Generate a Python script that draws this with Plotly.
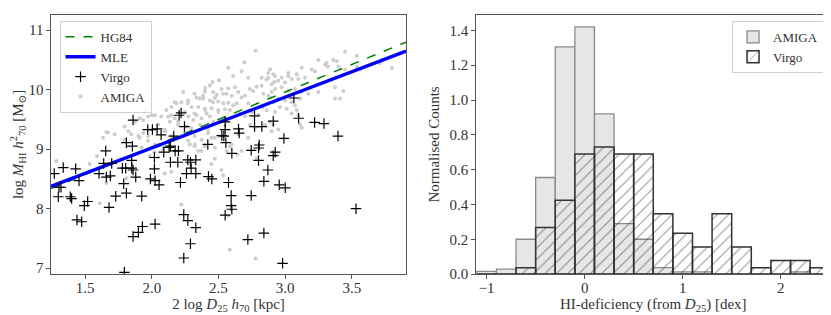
import plotly.graph_objects as go

# ---------------- Left panel data ----------------
virgo_x = [1.27, 1.337, 1.305, 1.32, 1.30, 1.39, 1.40, 1.43, 1.455, 1.44, 1.475, 1.495, 1.52,
           1.605, 1.64, 1.655, 1.66, 1.69, 1.68, 1.70, 1.73, 1.79, 1.78, 1.805, 1.81, 1.81, 1.795,
           1.85, 1.85, 1.855, 1.86, 1.86, 1.86, 1.88, 1.90, 1.93, 1.925, 1.97, 2.005, 1.99, 2.025,
           2.02, 2.02, 2.025, 2.04, 2.055, 2.07, 2.09, 2.13, 2.14, 2.14, 2.165, 2.175, 2.20, 2.195,
           2.215, 2.205, 2.22, 2.24, 2.245, 2.24, 2.27, 2.27, 2.26, 2.29, 2.29, 2.295, 2.33, 2.33,
           2.33, 2.42, 2.425, 2.45, 2.525, 2.54, 2.55, 2.55, 2.555, 2.55, 2.575, 2.595, 2.595, 2.60,
           2.60, 2.65, 2.655, 2.72, 2.745, 2.745, 2.77, 2.77, 2.80, 2.805, 2.80, 2.825, 2.84, 2.84,
           2.87, 2.91, 2.91, 2.925, 2.955, 2.98, 2.99, 3.00, 3.10, 3.22, 3.29, 3.395, 3.53, 3.065]
virgo_y = [8.59, 8.69, 8.36, 8.36, 8.20, 8.20, 8.17, 8.67, 8.47, 7.81, 7.78, 8.05, 8.12,
           8.59, 8.76, 8.97, 8.53, 8.55, 8.02, 8.76, 8.21, 8.42, 8.68, 8.68, 9.11, 8.26, 6.93,
           8.81, 8.68, 9.05, 8.65, 9.49, 7.53, 8.53, 7.60, 7.70, 8.21, 9.33, 9.33, 8.50, 8.47,
           8.86, 8.67, 7.74, 9.34, 8.40, 9.24, 8.95, 9.03, 9.05, 8.78, 9.22, 8.97, 8.97, 8.78,
           8.44, 9.57, 9.61, 7.90, 9.38, 7.17, 7.80, 8.82, 8.59, 8.78, 7.41, 8.68, 7.68, 8.82,
           8.59, 9.08, 8.54, 8.50, 9.23, 9.22, 9.33, 9.46, 9.11, 7.89, 8.44, 8.22, 8.05, 7.99,
           8.93, 9.34, 9.27, 7.48, 8.22, 8.98, 9.56, 9.38, 9.02, 9.07, 8.81, 9.38, 7.59, 8.46,
           8.65, 9.47, 8.89, 8.95, 8.40, 7.08, 9.18, 8.35, 9.52, 9.45, 9.43, 9.22, 8.00, 9.86]

amiga_x = [2.778, 2.693, 2.86, 2.873, 2.503, 2.436, 2.786, 2.823, 2.918, 2.523, 2.573, 2.623, 2.736,
           2.76, 2.398, 2.46, 2.486, 2.56, 2.598, 2.648, 2.673, 2.698, 2.836, 2.873, 2.898, 2.236,
           2.336, 2.36, 2.386, 2.273, 2.436, 2.46, 2.498, 2.536, 2.573, 2.61, 2.636, 2.223, 2.186,
           2.298, 2.348, 2.398, 2.448, 2.498, 2.548, 2.586, 2.736, 2.773, 2.848, 2.886, 2.898,
           1.948, 1.973, 2.023, 1.936, 2.123, 2.148, 2.173, 2.136, 2.248, 2.273, 2.311, 2.336,
           2.373, 2.411, 2.436, 2.461, 2.198, 2.261, 2.298, 2.361, 2.423, 2.223, 2.273, 2.323,
           2.373, 2.448, 2.498, 2.648, 2.723, 2.348, 2.473, 2.598, 2.673, 1.936, 1.998, 2.048,
           2.098, 1.973, 2.023, 2.086, 1.923, 2.66, 2.70, 2.75, 2.80, 2.83, 2.86,
           3.448, 3.536, 3.36, 3.386, 3.31, 3.248, 3.198, 3.123, 3.223, 3.086, 3.023, 2.973,
           2.923, 2.898, 2.948, 2.998, 3.048, 3.098, 3.148, 3.798, 3.723, 3.373, 3.436, 3.248,
           3.173, 3.123, 3.073, 3.023, 2.973, 2.923, 3.373, 3.411, 3.111, 3.048, 2.998, 2.948,
           2.911, 2.886, 3.073, 3.086, 3.048, 3.098, 3.011, 2.961, 2.923, 2.911, 2.948, 3.111,
           3.123, 2.873, 2.886, 2.911,
           3.71, 3.56, 2.723, 2.823, 2.573, 2.61, 2.673, 2.723, 2.823, 3.023, 3.298, 3.32, 3.40,
           3.448, 3.536,
           2.455, 2.40, 2.535, 2.472, 2.32, 2.385, 2.172, 2.147, 2.11, 2.27, 2.40, 2.50, 2.32,
           1.91, 2.072, 2.197, 1.672, 1.722, 1.635, 1.797, 1.847, 1.91, 1.972, 2.097, 2.147,
           2.247, 2.322, 2.422, 2.472, 1.797,
           1.285, 1.535, 1.61, 1.66, 1.81, 2.02, 2.047, 2.085, 1.985, 2.097, 2.147, 2.222, 2.285,
           2.322, 2.372, 2.397, 2.472, 2.522, 2.535, 2.447, 2.56,
           2.585, 2.643, 2.785, 2.585, 2.778, 2.573,
           1.59, 1.66, 1.825, 1.875, 1.90, 1.95, 2.0]
amiga_y = [10.655, 10.46, 10.17, 10.20, 10.16, 10.07, 10.05, 10.065, 10.13, 10.01, 10.02, 10.04, 10.01,
           9.98, 9.97, 9.96, 9.91, 9.93, 9.90, 9.96, 9.87, 9.90, 9.93, 9.90, 9.96, 9.96,
           9.87, 9.85, 9.85, 9.82, 9.82, 9.79, 9.80, 9.77, 9.78, 9.74, 9.77, 9.79, 9.77,
           9.71, 9.71, 9.68, 9.69, 9.66, 9.67, 9.66, 9.41, 9.36, 9.41, 9.46, 9.30,
           9.63, 9.55, 9.57, 9.49, 9.55, 9.57, 9.52, 9.46, 9.63, 9.55, 9.49, 9.57,
           9.52, 9.60, 9.55, 9.46, 9.41, 9.38, 9.35, 9.41, 9.33, 9.22, 9.14, 9.08,
           9.16, 9.19, 9.22, 9.25, 9.19, 8.97, 9.03, 9.08, 8.97, 9.27, 9.33, 9.41,
           9.33, 9.14, 9.08, 9.03, 9.03, 9.60, 9.55, 9.62, 9.58, 9.70, 9.65,
           10.64, 10.57, 10.50, 10.48, 10.45, 10.50, 10.34, 10.37, 10.31, 10.26, 10.23, 10.20,
           10.23, 10.09, 10.15, 10.12, 10.18, 10.18, 10.20, 10.37, 10.50, 10.04, 9.98, 9.96,
           9.93, 9.96, 10.01, 9.98, 10.04, 10.01, 9.85, 9.85, 9.85, 9.79, 9.82, 9.85,
           9.79, 9.87, 9.74, 9.66, 9.60, 9.57, 9.68, 9.71, 9.63, 9.41, 9.33, 9.41,
           9.36, 10.28, 10.34, 10.26,
           10.45, 10.34, 9.77, 9.71, 10.37, 10.23, 10.31, 10.20, 10.20, 10.28, 10.42, 10.39, 10.39,
           10.34, 10.39,
           10.13, 10.03, 9.93, 9.86, 9.93, 9.90, 9.79, 9.71, 9.66, 9.77, 9.66, 9.63, 9.60,
           9.52, 9.55, 9.46, 9.28, 9.25, 9.19, 9.38, 9.25, 9.19, 9.22, 9.30, 9.22,
           9.27, 9.22, 9.27, 9.19, 9.16,
           8.80, 8.75, 8.09, 8.43, 8.51, 8.95, 8.86, 9.00, 8.89, 8.59, 8.62, 8.07, 9.08,
           9.05, 8.97, 9.05, 8.84, 8.65, 8.56, 8.75, 8.97,
           9.04, 8.91, 8.85, 7.31, 7.16, 7.88,
           8.88, 9.29, 9.30, 9.46, 9.22, 9.65, 9.57]

line_x = [1.245, 3.905]
mle_coef = [7.31, 0.855]    # intercept, slope
hg84_coef = [7.184, 0.926]  # intercept, slope

# ---------------- Right panel data ----------------
bin_edges = [-1.1, -0.9, -0.7, -0.5, -0.3, -0.1, 0.1, 0.3, 0.5, 0.7, 0.9, 1.1, 1.3, 1.5,
             1.7, 1.9, 2.1, 2.3, 2.5]
amiga_counts = [0.015, 0.028, 0.20, 0.555, 1.305, 1.42, 0.92, 0.29, 0.20, 0.037, 0.013,
                0.013, 0.0, 0.0, 0.0, 0.0, 0.013, 0.0]
virgo_counts = [0.0, 0.0, 0.037, 0.267, 0.424, 0.69, 0.73, 0.69, 0.69, 0.346, 0.234,
                0.155, 0.346, 0.155, 0.037, 0.078, 0.078, 0.037]

bin_centers = [(a + b) / 2 for a, b in zip(bin_edges[:-1], bin_edges[1:])]
bin_widths = [b - a for a, b in zip(bin_edges[:-1], bin_edges[1:])]

FONT = "Liberation Serif, Times New Roman, DejaVu Serif, serif"
AX = "#555555"
TXT = "#333333"
FS = 15
LFS = 13

fig = go.Figure()

# Left panel
fig.add_trace(go.Scatter(x=amiga_x, y=amiga_y, mode="markers", name="AMIGA",
                         marker=dict(color="#cdcdcd", size=4), legendrank=4,
                         xaxis="x", yaxis="y", legend="legend"))
fig.add_trace(go.Scatter(x=line_x, y=[hg84_coef[0] + hg84_coef[1] * v for v in line_x],
                         mode="lines", name="HG84", line=dict(color="green", width=1.5, dash="dash"),
                         legendrank=1, xaxis="x", yaxis="y", legend="legend"))
fig.add_trace(go.Scatter(x=line_x, y=[mle_coef[0] + mle_coef[1] * v for v in line_x],
                         mode="lines", name="MLE", line=dict(color="blue", width=3.4),
                         legendrank=2, xaxis="x", yaxis="y", legend="legend"))
fig.add_trace(go.Scatter(x=virgo_x, y=virgo_y, mode="markers", name="Virgo",
                         marker=dict(symbol="cross-thin", size=7.5, line=dict(color="black", width=1.2)),
                         legendrank=3, xaxis="x", yaxis="y", legend="legend"))

# Right panel
fig.add_trace(go.Bar(x=bin_centers, y=amiga_counts, width=bin_widths, name="AMIGA",
                     marker=dict(color="#e6e6e6", line=dict(color="#8a8a8a", width=1.3)),
                     xaxis="x2", yaxis="y2", legend="legend2"))
fig.add_trace(go.Bar(x=bin_centers, y=virgo_counts, width=bin_widths, name="Virgo",
                     marker=dict(color="rgba(0,0,0,0)", line=dict(color="#333333", width=1.5),
                                 pattern=dict(shape="/", fgcolor="#222222", bgcolor="rgba(0,0,0,0)",
                                              size=8, solidity=0.12, fillmode="overlay")),
                     xaxis="x2", yaxis="y2", legend="legend2"))

axis_common = dict(showgrid=False, zeroline=False, showline=True, mirror=True, linecolor=AX,
                   linewidth=1, ticks="outside", ticklen=3.5, tickwidth=1, tickcolor=AX,
                   tickfont=dict(family=FONT, size=FS, color=TXT))
title_font = dict(family=FONT, size=FS, color=TXT)

fig.update_layout(
    width=831, height=315, margin=dict(l=0, r=0, t=0, b=0),
    paper_bgcolor="white", plot_bgcolor="white", barmode="overlay",
    font=dict(family=FONT, size=FS, color=TXT),
    xaxis=dict(domain=[0.0517, 0.479], range=[1.245, 3.905], tickvals=[1.5, 2.0, 2.5, 3.0, 3.5],
               tickformat=".1f", anchor="y",
               title=dict(text="2 log <i>D</i><sub>25</sub> <i>h</i><sub>70</sub> [kpc]",
                          font=title_font, standoff=0),
               **axis_common),
    yaxis=dict(domain=[0.1333, 0.978], range=[6.9, 11.26], tickvals=[7, 8, 9, 10, 11], anchor="x",
               title=dict(text="log <i>M</i><sub>HI</sub> <i>h</i><sup>2</sup><sub>70</sub> [M<sub>⊙</sub>]",
                          font=title_font, standoff=6),
               **axis_common),
    xaxis2=dict(domain=[0.563, 0.990], range=[-1.11, 2.51], tickvals=[-1, 0, 1, 2], anchor="y2",
                title=dict(text="HI-deficiency (from <i>D</i><sub>25</sub>) [dex]",
                           font=title_font, standoff=0),
                **axis_common),
    yaxis2=dict(domain=[0.1333, 0.978], range=[0, 1.49],
                tickvals=[0, 0.2, 0.4, 0.6, 0.8, 1.0, 1.2, 1.4], tickformat=".1f", anchor="x2",
                title=dict(text="Normalised Counts", font=title_font, standoff=6),
                **axis_common),
    legend=dict(x=0.062, y=0.958, xanchor="left", yanchor="top", bgcolor="rgba(255,255,255,0.85)",
                bordercolor="#d0d0d0", borderwidth=1, font=dict(family=FONT, size=LFS, color=TXT),
                tracegroupgap=0, itemwidth=30),
    legend2=dict(x=0.982, y=0.958, xanchor="right", yanchor="top", bgcolor="rgba(255,255,255,0.85)",
                 bordercolor="#d0d0d0", borderwidth=1, font=dict(family=FONT, size=LFS, color=TXT),
                 traceorder="normal", itemwidth=30),
    showlegend=True,
)

try:
    fig.update_xaxes(ticklabelstandoff=-4)
except Exception:
    pass

fig.write_html("out.html")
